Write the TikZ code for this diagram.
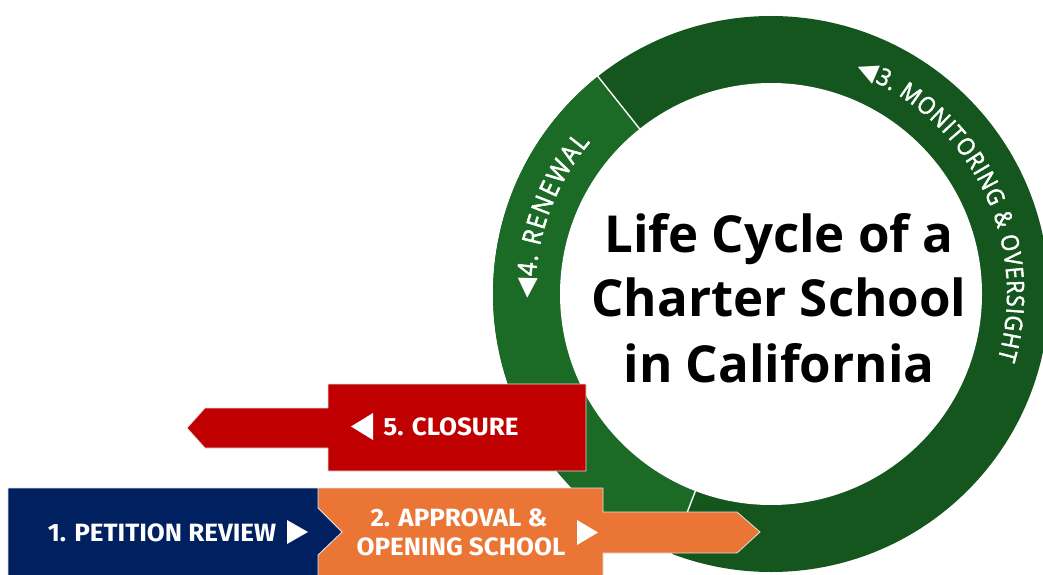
\documentclass[tikz,border=0pt]{standalone}
\usepackage{fontspec}
\usepackage{graphicx}
\usetikzlibrary{calc,decorations.text}
\setmainfont{Open Sans}
\newfontfamily\titlefont{Open Sans}
\newfontfamily\ringfont{Open Sans}[FakeBold=2, FakeStretch=0.9]
\newfontfamily\boxfont{Fira Sans}
\newfontfamily\symfont{DejaVu Sans}
\newcommand{\widen}[1]{\scalebox{1.04}[1]{#1}}

\definecolor{navyblue}{HTML}{002060}
\definecolor{approvalorange}{HTML}{EA7535}
\definecolor{closurered}{HTML}{C00000}
\definecolor{ringdark}{HTML}{14561E}
\definecolor{ringlight}{HTML}{1B6A25}

\begin{document}
\begin{tikzpicture}[x=1pt,y=1pt,
  boxshape/.style={draw=black!12, line width=0.8pt},
  boxlabel/.style={text=white, inner sep=0pt,
    font=\boxfont\bfseries\fontsize{25}{25}\selectfont},
  marker/.style={fill=white},
  titletext/.style={text=black, inner sep=0pt,
    font=\titlefont\bfseries\fontsize{51}{51}\selectfont},
  ringlabel/.style={decorate, decoration={text along path,
    text align=fit to path, text color=white}}]

\clip (0,0) rectangle (1043,574);
\fill[white] (0,0) rectangle (1043,574);

% ring around the title
\coordinate (c) at (771,280);
\fill[ringdark] (c) circle[radius=278pt];
\fill[ringlight] (c) -- ($(c)+(128.5:278pt)$)
  arc[start angle=128.5, end angle=249, radius=278pt] -- cycle;
\fill[white] (c) circle[radius=211pt];
\draw[white, line width=1.4pt] ($(c)+(128.5:210pt)$) -- ($(c)+(128.5:279pt)$);
\draw[white, line width=1.4pt] ($(c)+(249:210pt)$) -- ($(c)+(249:279pt)$);

% stage names written along the ring
\path[ringlabel, decoration={text={|\ringfont\fontsize{24}{24}\selectfont|{\symfont\fontsize{26}{26}\selectfont ◀}3. MONITORING {\&} OVERSIGHT}}]
  ($(c)+(69:236pt)$) arc[start angle=69, end angle=-16, radius=236pt];
\path[ringlabel, decoration={text={|\ringfont\fontsize{26}{26}\selectfont|{\symfont\fontsize{26}{26}\selectfont ◀}4. RENEWAL}}]
  ($(c)+(181:236pt)$) arc[start angle=181, end angle=140, radius=236pt];

% title
\node[titletext, anchor=base] (title1) at (779,322) {Life Cycle of a};
\node[titletext, anchor=base] (title2) at (779,258) {Charter School};
\node[titletext, anchor=base] (title3) at (779,192) {in California};

% closure arrow
\fill[closurered, boxshape] (328,190) -- (586,190) -- (586,103) -- (328,103)
  -- (328,126) -- (205,126) -- (187,146) -- (205,166) -- (328,166) -- cycle;
\fill[marker] (373,161) -- (373,134) -- (351,147.5) -- cycle;
\node[boxlabel, anchor=base] (closure) at (451,139) {\widen{5. CLOSURE}};

% approval arrow
\fill[approvalorange, boxshape] (318,86) -- (603,86) -- (603,62) -- (737,62)
  -- (760,42) -- (737,21) -- (603,21) -- (603,-3) -- (318,-3) -- (318,19)
  -- (342,42) -- (318,66) -- cycle;
\node[boxlabel, anchor=base] (approval1) at (459,47.5) {\widen{2. APPROVAL \&}};
\node[boxlabel, anchor=base] (approval2) at (461,18.5) {\widen{OPENING SCHOOL}};
\fill[marker] (577,54) -- (577,29) -- (598,41.5) -- cycle;

% petition box
\fill[navyblue, boxshape] (8,86) -- (318,86) -- (318,66) -- (342,42)
  -- (318,19) -- (318,-3) -- (8,-3) -- cycle;
\node[boxlabel, anchor=base] (petition) at (162,33) {\widen{1. PETITION REVIEW}};
\fill[marker] (287,54) -- (287,30) -- (308,42) -- cycle;
\end{tikzpicture}
\end{document}
